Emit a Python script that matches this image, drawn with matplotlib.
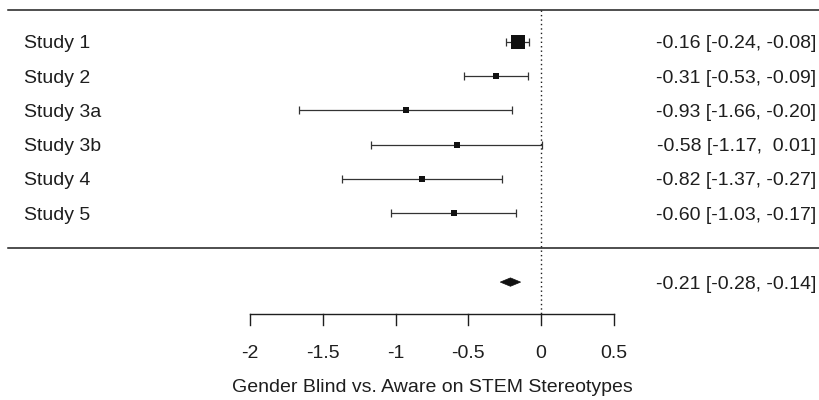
import numpy as np
import matplotlib
matplotlib.use("Agg")
import matplotlib.pyplot as plt
from matplotlib.patches import Polygon

plt.rcParams['font.family'] = ['Liberation Sans', 'DejaVu Sans']

# ---- data ----
studies = ['Study 1', 'Study 2', 'Study 3a', 'Study 3b', 'Study 4', 'Study 5']
est = np.array([-0.16, -0.31, -0.93, -0.58, -0.82, -0.60])
lo = np.array([-0.24, -0.53, -1.66, -1.17, -1.37, -1.03])
hi = np.array([-0.08, -0.09, -0.20, 0.01, -0.27, -0.17])

summ_est, summ_lo, summ_hi = -0.21, -0.28, -0.14

ticks = [-2, -1.5, -1, -0.5, 0, 0.5]
tick_labels = ['-2', '-1.5', '-1', '-0.5', '0', '0.5']
xlabel = 'Gender Blind vs. Aware on STEM Stereotypes'

# ---- layout (rows from top) ----
rows = np.arange(1, len(studies) + 1)
row_sep = 7.02
row_summ = 8.02
row_axis = 8.95
row_top = 0.064

col = '#1e1e1e'
fs = 14

fig = plt.figure(figsize=(8.2, 4.0), dpi=100)
ax = fig.add_axes([0, 0, 1, 1])
ax.set_xlim((0 - 541) / 145.5, (820 - 541) / 145.5)
ax.set_ylim(1 + (400 - 42) / 34.2, 1 + (0 - 42) / 34.2)
ax.axis('off')

x_left = (8 - 541) / 145.5
x_right = ax.get_xlim()[1]

# horizontal rules
ax.plot([x_left, x_right], [row_top, row_top], color=col, lw=1.1)
ax.plot([x_left, x_right], [row_sep, row_sep], color=col, lw=1.1)

# reference line at zero
ax.plot([0, 0], [row_top, row_axis], color=col, lw=1.0, linestyle=(0, (1, 2.2)))

# marker sizes from inverse variance
se = (hi - lo) / (2 * 1.96)
w = 1 / se ** 2
side_px = 6 + 7.5 * (w - w.min()) / (w.max() - w.min())
side_pt = side_px * 0.72

for r, e, l, h, s in zip(rows, est, lo, hi, side_pt):
    ax.errorbar(e, r, xerr=[[e - l], [h - e]], fmt='none', ecolor='#333333',
                elinewidth=0.9, capsize=3.2, capthick=0.9)
    ax.plot(e, r, marker='s', markersize=s, color='#111111', mec='#111111', mew=0)

# summary diamond
dh = 4.2 / 34.2
diamond = Polygon([[summ_lo, row_summ], [summ_est, row_summ - dh],
                   [summ_hi, row_summ], [summ_est, row_summ + dh]],
                  closed=True, facecolor='#111111', edgecolor='#111111', lw=0.5)
ax.add_patch(diamond)

# left labels and right annotations
x_lab = (24 - 541) / 145.5
x_ann = (816 - 541) / 145.5
for r, name, e, l, h in zip(rows, studies, est, lo, hi):
    ax.text(x_lab, r, name, ha='left', va='center_baseline', fontsize=fs, color=col)
    ax.text(x_ann, r, f'{e:.2f} [{l:.2f}, {h:5.2f}]', ha='right', va='center_baseline',
            fontsize=fs, color=col)
ax.text(x_ann, row_summ, f'{summ_est:.2f} [{summ_lo:.2f}, {summ_hi:.2f}]',
        ha='right', va='center_baseline', fontsize=fs, color=col)

# x axis
tick_len = 11 / 34.2
ax.plot([ticks[0], ticks[-1]], [row_axis, row_axis], color=col, lw=1.0)
for t, lab in zip(ticks, tick_labels):
    ax.plot([t, t], [row_axis, row_axis + tick_len], color=col, lw=1.0)
    ax.text(t, row_axis + 1.1, lab, ha='center', va='center_baseline', fontsize=fs, color=col)
ax.text(np.mean([ticks[0], ticks[-1]]), row_axis + 2.08, xlabel, ha='center',
        va='center_baseline', fontsize=fs, color=col)

fig.savefig('out.png', dpi=100)
